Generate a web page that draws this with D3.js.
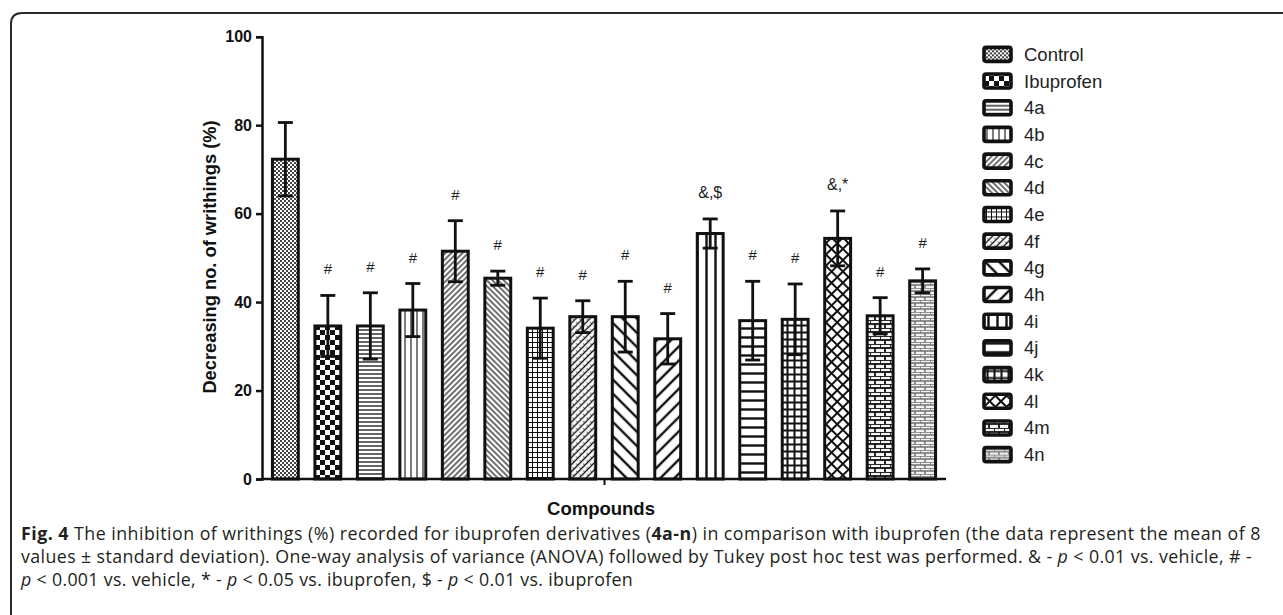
<!DOCTYPE html>
<html>
<head>
<meta charset="utf-8">
<script src="https://cdn.jsdelivr.net/npm/d3@7"></script>
<style>
  body { margin: 0; background: #fff; }
  svg { display: block; }
</style>
</head>
<body>
<div id="chart"></div>
<script>
var categories = ["Control", "Ibuprofen", "4a", "4b", "4c", "4d", "4e", "4f", "4g", "4h", "4i", "4j", "4k", "4l", "4m", "4n"];
var means = [72.3, 34.6, 34.6, 38.2, 51.5, 45.4, 34.1, 36.7, 36.7, 31.7, 55.5, 35.8, 36.1, 54.4, 36.9, 44.8];
var sds = [8.3, 6.9, 7.5, 6.0, 6.9, 1.6, 6.8, 3.6, 8.0, 5.7, 3.3, 8.9, 8.0, 6.2, 4.1, 2.7];
var marks = ["", "#", "#", "#", "#", "#", "#", "#", "#", "#", "&,$", "#", "#", "&,*", "#", "#"];
var yTicks = [0, 20, 40, 60, 80, 100];
var yLabel = "Decreasing no. of writhings (%)";
var xLabel = "Compounds";

var captionLines = [
    [["b", "Fig. 4"], ["n", " The inhibition of writhings (%) recorded for ibuprofen derivatives ("], ["b", "4a-n"], ["n", ") in comparison with ibuprofen (the data represent the mean of 8"]],
    [["n", "values \u00b1 standard deviation). One-way analysis of variance (ANOVA) followed by Tukey post hoc test was performed. & - "], ["i", "p"], ["n", " < 0.01 vs. vehicle, # -"]],
    [["i", "p"], ["n", " < 0.001 vs. vehicle, * - "], ["i", "p"], ["n", " < 0.05 vs. ibuprofen, $ - "], ["i", "p"], ["n", " < 0.01 vs. ibuprofen"]]
];
var captionWidths = [1240, 1231, 612];

(function () {
    var width = 1283, height = 615;
    var chartFont = "'Liberation Sans', Arial, sans-serif";

    var svg = d3.select("#chart").append("svg")
        .attr("width", width)
        .attr("height", height);

    var defs = svg.append("defs");

    // hatch patterns, one per compound
    function pat(id, w, h, transform) {
        var p = defs.append("pattern")
            .attr("id", id)
            .attr("patternUnits", "userSpaceOnUse")
            .attr("width", w)
            .attr("height", h);
        if (transform) p.attr("patternTransform", transform);
        p.append("rect").attr("width", w).attr("height", h).attr("fill", "#fff");
        return p;
    }
    function ln(p, x1, y1, x2, y2, sw, col) {
        p.append("line").attr("x1", x1).attr("y1", y1).attr("x2", x2).attr("y2", y2)
            .attr("stroke", col || "#111").attr("stroke-width", sw);
    }

    var p;
    p = pat("p0", 4, 4);
    p.append("rect").attr("width", 2).attr("height", 2).attr("fill", "#444");
    p.append("rect").attr("x", 2).attr("y", 2).attr("width", 2).attr("height", 2).attr("fill", "#444");

    p = pat("p1", 10, 10);
    p.append("rect").attr("width", 5).attr("height", 5).attr("fill", "#111");
    p.append("rect").attr("x", 5).attr("y", 5).attr("width", 5).attr("height", 5).attr("fill", "#111");

    p = pat("p2", 4, 4);
    ln(p, 0, 2, 4, 2, 1.3);

    p = pat("p3", 6, 6);
    ln(p, 3, 0, 3, 6, 1.1);

    p = pat("p4", 4, 4, "rotate(45)");
    ln(p, 2, 0, 2, 4, 1.2);

    p = pat("p5", 4, 4, "rotate(-45)");
    ln(p, 2, 0, 2, 4, 1.2);

    p = pat("p6", 5, 5);
    ln(p, 0, 2.5, 5, 2.5, 1);
    ln(p, 2.5, 0, 2.5, 5, 1);

    p = pat("p7", 5, 5, "rotate(45)");
    ln(p, 2.5, 0, 2.5, 5, 1.4);
    ln(p, 0, 0, 2.5, 0, 1);

    p = pat("p8", 10, 10, "rotate(-45)");
    ln(p, 5, 0, 5, 10, 2.4);

    p = pat("p9", 10, 10, "rotate(45)");
    ln(p, 5, 0, 5, 10, 2.4);

    p = pat("p10", 9, 9);
    ln(p, 4.5, 0, 4.5, 9, 2.4);

    p = pat("p11", 9, 9);
    ln(p, 0, 4.5, 9, 4.5, 2.4);

    p = pat("p12", 7, 7);
    ln(p, 0, 3.5, 7, 3.5, 2);
    ln(p, 3.5, 0, 3.5, 7, 2);

    p = pat("p13", 8, 8, "rotate(45)");
    ln(p, 0, 4, 8, 4, 2);
    ln(p, 4, 0, 4, 8, 2);

    p = pat("p14", 10, 8);
    p.select("rect").attr("fill", "#f4f4f4");
    ln(p, 0, 0, 10, 0, 1.8);
    ln(p, 0, 4, 10, 4, 1.8);
    ln(p, 0, 0, 0, 4, 1.8);
    ln(p, 5, 4, 5, 8, 1.8);

    p = pat("p15", 10, 6);
    p.select("rect").attr("fill", "#f2f2f2");
    ln(p, 0, 0, 10, 0, 1.6, "#777");
    ln(p, 0, 3, 10, 3, 1.6, "#777");
    ln(p, 0, 0, 0, 3, 1.6, "#777");
    ln(p, 5, 3, 5, 6, 1.6, "#777");

    // outer frame
    svg.append("path")
        .attr("d", "M11,620 L11,24 Q11,13 22,13 L1290,13")
        .attr("fill", "none")
        .attr("stroke", "#2a2a2a")
        .attr("stroke-width", 2);

    var x = d3.scaleBand()
        .domain(categories)
        .range([262, 946])
        .paddingInner(0.32)
        .paddingOuter(0.21);

    var y = d3.scaleLinear()
        .domain([0, 100])
        .range([479, 36.7]);

    var data = categories.map(function (c, i) {
        return { name: c, mean: means[i], sd: sds[i], mark: marks[i], idx: i };
    });

    // bars
    svg.append("g")
        .selectAll("rect")
        .data(data)
        .join("rect")
        .attr("x", d => x(d.name) + 1.5)
        .attr("y", d => y(d.mean))
        .attr("width", x.bandwidth() - 3)
        .attr("height", d => y(0) - y(d.mean))
        .attr("fill", d => "url(#p" + d.idx + ")")
        .attr("stroke", "#111")
        .attr("stroke-width", 3);

    // error bars
    var err = svg.append("g")
        .attr("stroke", "#111")
        .attr("stroke-width", 2.8)
        .selectAll("g")
        .data(data)
        .join("g");

    var capW = 15;
    err.append("line")
        .attr("x1", d => x(d.name) + x.bandwidth() / 2)
        .attr("x2", d => x(d.name) + x.bandwidth() / 2)
        .attr("y1", d => y(d.mean + d.sd))
        .attr("y2", d => y(d.mean - d.sd));
    err.append("line")
        .attr("x1", d => x(d.name) + x.bandwidth() / 2 - capW / 2)
        .attr("x2", d => x(d.name) + x.bandwidth() / 2 + capW / 2)
        .attr("y1", d => y(d.mean + d.sd))
        .attr("y2", d => y(d.mean + d.sd));
    err.append("line")
        .attr("x1", d => x(d.name) + x.bandwidth() / 2 - capW / 2)
        .attr("x2", d => x(d.name) + x.bandwidth() / 2 + capW / 2)
        .attr("y1", d => y(d.mean - d.sd))
        .attr("y2", d => y(d.mean - d.sd));

    // significance marks
    svg.append("g")
        .selectAll("text")
        .data(data.filter(d => d.mark))
        .join("text")
        .attr("x", d => x(d.name) + x.bandwidth() / 2)
        .attr("y", d => y(d.mean + d.sd) - 21)
        .attr("text-anchor", "middle")
        .attr("font-family", chartFont)
        .attr("font-size", d => d.mark == "#" ? 15 : 16)
        .attr("fill", "#222")
        .text(d => d.mark);

    // axes
    var yAxis = svg.append("g")
        .attr("transform", "translate(262,0)")
        .call(d3.axisLeft(y).tickValues(yTicks).tickSize(6).tickPadding(4).tickFormat(d3.format("d")));
    yAxis.select(".domain").attr("stroke", "#111").attr("stroke-width", 2.5);
    yAxis.selectAll(".tick line").attr("stroke", "#111").attr("stroke-width", 2.5);
    yAxis.selectAll(".tick text")
        .attr("font-family", chartFont)
        .attr("font-weight", "bold")
        .attr("font-size", 16)
        .attr("fill", "#111");

    var xAxis = svg.append("g")
        .attr("transform", "translate(0,479)")
        .call(d3.axisBottom(d3.scalePoint().domain([xLabel]).range([262, 946]).padding(0.5))
            .tickSize(6).tickFormat(""));
    xAxis.select(".domain").attr("d", "M262,0H946").attr("stroke", "#111").attr("stroke-width", 2.5);
    xAxis.selectAll(".tick line").attr("stroke", "#111").attr("stroke-width", 2);

    svg.append("text")
        .attr("x", 601)
        .attr("y", 515)
        .attr("text-anchor", "middle")
        .attr("font-family", chartFont)
        .attr("font-weight", "bold")
        .attr("font-size", 18.5)
        .attr("fill", "#111")
        .text(xLabel);

    svg.append("text")
        .attr("transform", "translate(216,257) rotate(-90)")
        .attr("text-anchor", "middle")
        .attr("font-family", chartFont)
        .attr("font-weight", "bold")
        .attr("font-size", 18.3)
        .attr("fill", "#111")
        .text(yLabel);

    // legend
    var ly = d3.scaleBand().domain(categories).range([41, 468]);
    var leg = svg.append("g")
        .selectAll("g")
        .data(data)
        .join("g")
        .attr("transform", d => "translate(984," + (ly(d.name) + ly.bandwidth() / 2) + ")");
    leg.append("rect")
        .attr("x", 0).attr("y", -7)
        .attr("width", 27).attr("height", 14)
        .attr("rx", 2)
        .attr("fill", d => "url(#p" + d.idx + ")")
        .attr("stroke", "#111")
        .attr("stroke-width", 3.6);
    leg.append("text")
        .attr("x", 40)
        .attr("y", 6.5)
        .attr("font-family", chartFont)
        .attr("font-size", 18.5)
        .attr("fill", "#222")
        .text(d => d.name);

    // caption, spaced out to the widths of the printed lines
    var cap = svg.append("g")
        .attr("font-family", "'Open Sans', 'Noto Sans', sans-serif")
        .attr("font-size", 17.8)
        .attr("fill", "#231f20");
    captionLines.forEach(function (line, i) {
        var t = cap.append("text")
            .attr("x", 21)
            .attr("y", 540 + i * 23);
        line.forEach(function (seg) {
            var s = t.append("tspan").text(seg[1]);
            if (seg[0] == "b") s.attr("font-weight", "bold");
            if (seg[0] == "i") s.attr("font-style", "italic");
        });
        var w = t.node().getComputedTextLength();
        var n = line.reduce((acc, s) => acc + s[1].length, 0);
        t.attr("letter-spacing", ((captionWidths[i] - w) / n).toFixed(3));
    });
})();
</script>
</body>
</html>
